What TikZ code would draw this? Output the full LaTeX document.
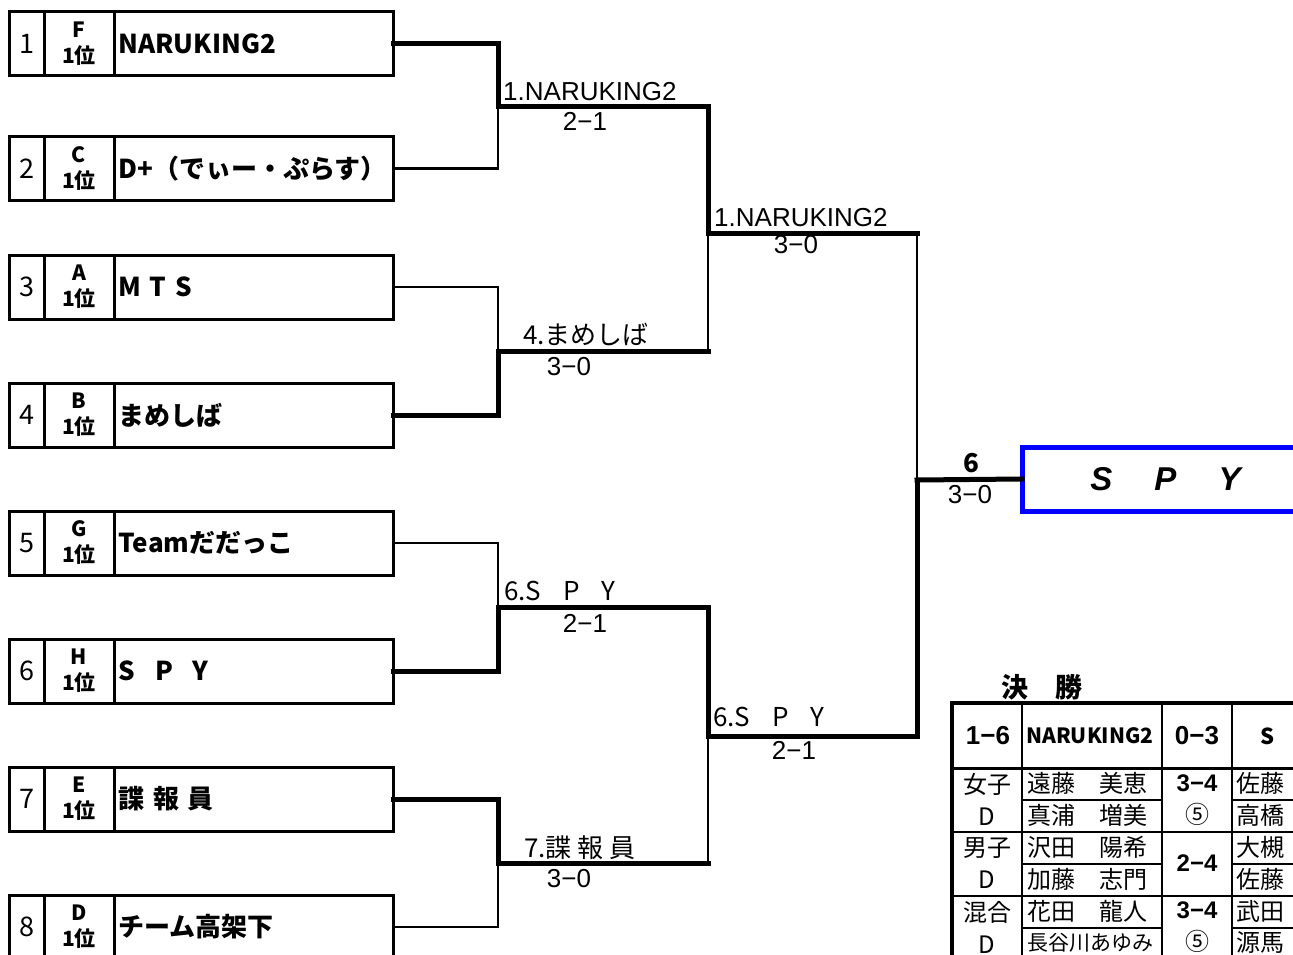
\documentclass[tikz,border=0pt]{standalone}
\usepackage{fontspec}
\setmainfont{Noto Sans CJK JP}
\newfontfamily\latinfont{Liberation Sans}
\usetikzlibrary{positioning}

\tikzset{
  numbox/.style={draw, line width=3pt, outer sep=0pt, inner sep=0pt,
    minimum width=35pt, minimum height=64pt, font=\fontsize{27}{30}\selectfont},
  grpbox/.style={numbox, minimum width=70pt, align=center,
    font=\fontsize{21}{26}\selectfont\bfseries},
  namebox/.style={numbox, minimum width=279pt, text width=270pt, align=left,
    font=\fontsize{26}{30}\selectfont\bfseries},
  thickln/.style={line width=5pt, line cap=rect},
  thinln/.style={line width=2.5pt},
  winlab/.style={inner sep=0pt, anchor=base west, font=\fontsize{26}{30}\selectfont},
  scorelab/.style={inner sep=0pt, anchor=base, font=\fontsize{26}{30}\selectfont\latinfont},
  champbox/.style={draw=blue, line width=5pt, outer sep=0pt, anchor=west,
    minimum width=285pt, minimum height=64pt},
  cell/.style={inner sep=0pt, font=\fontsize{24}{32}\selectfont},
}

\begin{document}
\begin{tikzpicture}[x=1pt, y=-1pt]
    \clip (0,0) rectangle (1293,955);

    % teams
    \node[numbox] (n1) at (26.5,44) {1};
    \node[grpbox, right=0pt of n1] (g1) {F\\1位};
    \node[namebox, right=0pt of g1] (t1) {NARUKING2};
    \node[numbox] (n2) at (26.5,168.5) {2};
    \node[grpbox, right=0pt of n2] (g2) {C\\1位};
    \node[namebox, right=0pt of g2] (t2) {D+（でぃー・ぷらす）};
    \node[numbox] (n3) at (26.5,287) {3};
    \node[grpbox, right=0pt of n3] (g3) {A\\1位};
    \node[namebox, right=0pt of g3] (t3) {M T S};
    \node[numbox] (n4) at (26.5,415) {4};
    \node[grpbox, right=0pt of n4] (g4) {B\\1位};
    \node[namebox, right=0pt of g4] (t4) {まめしば};
    \node[numbox] (n5) at (26.5,543) {5};
    \node[grpbox, right=0pt of n5] (g5) {G\\1位};
    \node[namebox, right=0pt of g5] (t5) {Teamだだっこ};
    \node[numbox] (n6) at (26.5,671) {6};
    \node[grpbox, right=0pt of n6] (g6) {H\\1位};
    \node[namebox, right=0pt of g6] (t6) {S\hspace{20pt}P\hspace{20pt}Y};
    \node[numbox] (n7) at (26.5,799) {7};
    \node[grpbox, right=0pt of n7] (g7) {E\\1位};
    \node[namebox, right=0pt of g7] (t7) {諜 報 員};
    \node[numbox] (n8) at (26.5,927) {8};
    \node[grpbox, right=0pt of n8] (g8) {D\\1位};
    \node[namebox, right=0pt of g8] (t8) {チーム高架下};

    % bracket
    \coordinate (m1) at (498,107);
    \coordinate (m2) at (498,351);
    \coordinate (m3) at (498,607);
    \coordinate (m4) at (498,863);
    \coordinate (r1) at (708,233);
    \coordinate (r2) at (708,736);
    \coordinate (fin) at (917,480);
    \node[champbox] (champ) at (1022,479)
      {\hspace*{2pt}\fontsize{33}{36}\selectfont\latinfont\bfseries\itshape S\hspace{42pt}P\hspace{42pt}Y};

    \draw[thickln] (t1.east) -| (m1);
    \draw[thinln]  (t2.east) -| (m1);
    \draw[thinln]  (t3.east) -| (m2);
    \draw[thickln] (t4.east) -| (m2);
    \draw[thinln]  (t5.east) -| (m3);
    \draw[thickln] (t6.east) -| (m3);
    \draw[thickln] (t7.east) -| (m4);
    \draw[thinln]  (t8.east) -| (m4);
    \draw[thickln] (m1) -| (r1);
    \draw[thinln]  (m2) -| (r1);
    \draw[thickln] (m2) -- (m2 -| r1);
    \draw[thickln] (m3) -| (r2);
    \draw[thinln]  (m4) -| (r2);
    \draw[thickln] (m4) -- (m4 -| r2);
    \draw[thinln]  (r1) -| (fin);
    \draw[thickln] (r1) -- (r1 -| fin);
    \draw[thickln] (r2) -| (fin);
    \draw[thickln] (fin) -- (champ.west);

    % winners and scores
    \node[winlab, font=\fontsize{26}{30}\selectfont\latinfont] (win1) at (503,101) {1.NARUKING2};
    \node[scorelab] (sc1) at (585,131) {2−1};
    \node[winlab, font=\fontsize{26}{30}\selectfont\latinfont] (win2) at (714,226) {1.NARUKING2};
    \node[scorelab] (sc2) at (796,253) {3−0};
    \node[winlab] (win3) at (523,344) {4.まめしば};
    \node[scorelab] (sc3) at (569,375) {3−0};
    \node[winlab] (win4) at (504,600) {6.S\hspace{22pt}P\hspace{22pt}Y};
    \node[scorelab] (sc4) at (585,632) {2−1};
    \node[winlab] (win5) at (713,726) {6.S\hspace{22pt}P\hspace{22pt}Y};
    \node[scorelab] (sc5) at (794,759) {2−1};
    \node[winlab] (win6) at (524,857) {7.諜 報 員};
    \node[scorelab] (sc6) at (569,887) {3−0};
    \node[scorelab, font=\fontsize{26}{30}\selectfont\bfseries] (win7) at (971,472) {6};
    \node[scorelab] (sc7) at (970,503) {3−0};

    % final table
    \node[inner sep=0pt, anchor=base, font=\fontsize{27}{30}\selectfont\bfseries] (kessho) at (1042,697) {決　勝};
    \draw[line width=3.5pt] (952,960) -- (952,703) -- (1300,703);
    \draw[line width=3pt] (952,768) -- (1300,768);
    \draw[line width=2.5pt] (952,832) -- (1300,832) (952,896) -- (1300,896);
    \draw[line width=2.5pt] (1022,703) -- (1022,960) (1162,703) -- (1162,960) (1232,703) -- (1232,960);
    \draw[line width=1.5pt] (1022,800) -- (1162,800) (1232,800) -- (1300,800);
    \draw[line width=1.5pt] (1022,864) -- (1162,864) (1232,864) -- (1300,864);
    \draw[line width=1.5pt] (1022,928) -- (1162,928) (1232,928) -- (1300,928);

    \node[cell, font=\fontsize{26}{30}\selectfont\latinfont\bfseries] (pair) at (988,736) {1−6};
    \node[cell, anchor=west, font=\fontsize{21}{30}\selectfont\bfseries] (home) at (1026,736) {NARUKING2};
    \node[cell, font=\fontsize{26}{30}\selectfont\latinfont\bfseries] (total) at (1197,736) {0−3};
    \node[cell, font=\fontsize{22}{30}\selectfont\bfseries] (away) at (1268,736) {S};

    \node[cell, align=center] (wd) at (987,799) {女子\\D};
    \node[cell, align=center] (md) at (987,863) {男子\\D};
    \node[cell, align=center] (xd) at (987,927) {混合\\D};
    \node[cell, anchor=west] (wd1) at (1027,783) {遠藤　美恵};
    \node[cell, anchor=west] (wd2) at (1027,815) {真浦　増美};
    \node[cell, anchor=west] (md1) at (1027,847) {沢田　陽希};
    \node[cell, anchor=west] (md2) at (1027,879) {加藤　志門};
    \node[cell, anchor=west] (xd1) at (1027,911) {花田　龍人};
    \node[cell, anchor=west, font=\fontsize{21}{30}\selectfont] (xd2) at (1027,943) {長谷川あゆみ};
    \node[cell, align=center] (wds) at (1197,800) {{\latinfont\bfseries 3−4}\\⑤};
    \node[cell, font=\fontsize{24}{32}\selectfont\latinfont\bfseries] (mds) at (1197,863) {2−4};
    \node[cell, align=center] (xds) at (1197,927) {{\latinfont\bfseries 3−4}\\⑤};
    \node[cell, anchor=west] (wd3) at (1236,783) {佐藤};
    \node[cell, anchor=west] (wd4) at (1236,815) {高橋};
    \node[cell, anchor=west] (md3) at (1236,847) {大槻};
    \node[cell, anchor=west] (md4) at (1236,879) {佐藤};
    \node[cell, anchor=west] (xd3) at (1236,911) {武田};
    \node[cell, anchor=west] (xd4) at (1236,943) {源馬};
\end{tikzpicture}
\end{document}
